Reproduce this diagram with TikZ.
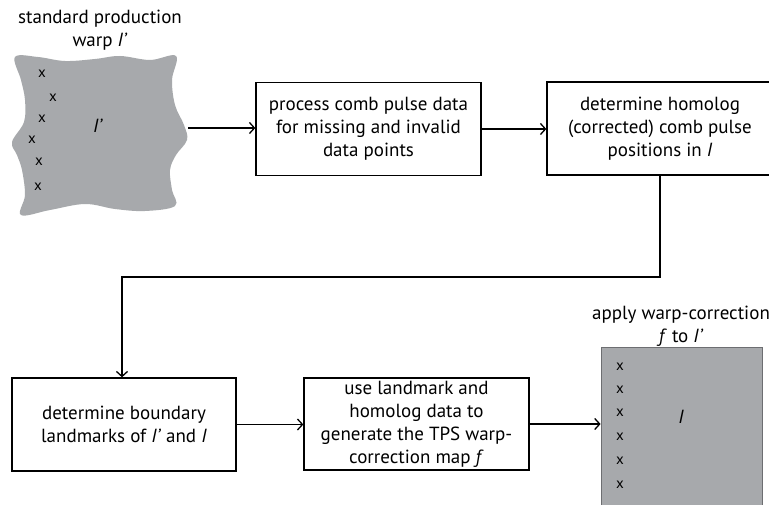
\documentclass[tikz,border=0pt]{standalone}
\usepackage{fontspec}
\setmainfont{PT Sans}
\usetikzlibrary{arrows.meta}
\definecolor{imggray}{HTML}{A7A9AC}
\definecolor{edgegray}{HTML}{6D6E71}
\begin{document}
\begin{tikzpicture}[x=1pt,y=-1pt,
  txt/.style={font=\fontsize{19}{23}\selectfont},
  box/.style={draw, line width=1.3pt, align=center, inner sep=0pt, txt},
  lbl/.style={align=center, inner sep=0pt, txt},
  xm/.style={inner sep=0pt, font=\fontsize{15}{15}\selectfont},
  arr/.style={line width=1.3pt, -{Straight Barb[length=5pt,width=11pt]}},
  conn/.style={line width=1.3pt}]
\clip (0,0) rectangle (769,505);
\fill[white] (0,0) rectangle (769,505);
% warped image
\fill[imggray] plot[smooth cycle, tension=0.6] coordinates {
  (15,57) (38,57) (65,61) (95,59) (120,56) (150,60) (176,56)
  (172,80) (175,105) (184,125) (187,140) (176,155) (170,170) (172,190) (175,206)
  (145,211) (115,209) (85,204) (50,210) (21,215)
  (25,195) (22,170) (17,155) (12,142) (24,122) (25,100) (21,80)};
\node[lbl] (t1) at (100,30) {standard production\\warp \textit{I'}};
\node[xm] (a1) at (42,74) {x};
\node[xm] (a2) at (53,98) {x};
\node[xm] (a3) at (42,119) {x};
\node[xm] (a4) at (32,140) {x};
\node[xm] (a5) at (39,162) {x};
\node[xm] (a6) at (38,187) {x};
\node[lbl] (ip) at (98,126) {\textit{I'}};
\coordinate (wr) at (188,128);
% boxes
\node[box, minimum width=225pt, minimum height=93pt] (b1) at (368.5,129) {process comb pulse data\\for missing and invalid\\data points};
\node[box, minimum width=226pt, minimum height=93pt] (b2) at (660,128.5) {determine homolog\\(corrected) comb pulse\\positions in \textit{I}};
\node[box, minimum width=224pt, minimum height=93pt] (b3) at (124,424.5) {determine boundary\\landmarks of \textit{I'} and \textit{I}};
\node[box, minimum width=225pt, minimum height=92pt] (b4) at (416.5,424) {use landmark and\\homolog data to\\generate the TPS warp-\\correction map \textit{f}};
% corrected image
\node[draw=edgegray, line width=0.8pt, fill=imggray, minimum width=161pt, minimum height=180pt, inner sep=0pt] (r) at (681.5,437) {};
\node[lbl] (t2) at (681,326) {apply warp-correction\\\textit{f} to \textit{I'}};
\node[xm] (c1) at (620,367) {x};
\node[xm] (c2) at (620,390) {x};
\node[xm] (c3) at (620,413) {x};
\node[xm] (c4) at (620,437) {x};
\node[xm] (c5) at (620,461) {x};
\node[xm] (c6) at (620,485) {x};
\node[lbl] (il) at (681,417) {\textit{I}};
% connectors
\draw[arr] (wr) -- (b1.west |- wr);
\draw[arr] (b1.east) -- (b2.west |- b1.east);
\draw[arr] (b2.south) -- (660,277) -| (122,0 |- b3.north);
\draw[arr] (b3.east) -- (b4.west |- b3.east);
\draw[arr] (b4.east) -- (r.west |- b4.east);
\end{tikzpicture}
\end{document}
